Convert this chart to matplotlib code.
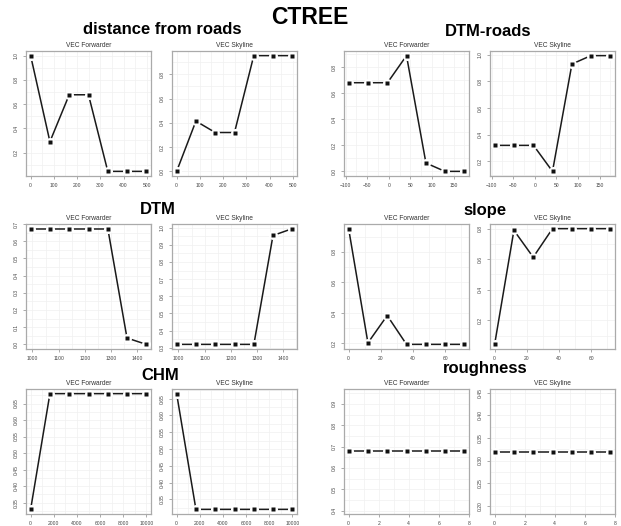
import matplotlib
matplotlib.use("Agg")
import matplotlib.pyplot as plt
from matplotlib.ticker import AutoMinorLocator

plt.rcParams["font.family"] = ["Liberation Sans", "DejaVu Sans"]

# x values of each variable
dist_x = [0, 83, 166, 249, 332, 415, 498]
dtmroads_x = [-93, -48, -3, 41, 86, 130, 175]
dtm_x = [993, 1067, 1140, 1214, 1288, 1361, 1435]
slope_x = [0, 12, 24, 36, 48, 60, 72]
chm_x = [0, 1667, 3333, 5000, 6667, 8333, 10000]
rough_x = [0, 1.29, 2.57, 3.86, 5.14, 6.43, 7.71]

# partial dependence values
dist_fwd = [1.0, 0.29, 0.677, 0.677, 0.045, 0.045, 0.045]
dist_sky = [0.0, 0.414, 0.32, 0.32, 0.953, 0.953, 0.953]
dtmroads_fwd = [0.681, 0.681, 0.681, 0.889, 0.064, 0.0, 0.0]
dtmroads_sky = [0.32, 0.32, 0.32, 0.125, 0.93, 0.993, 0.993]
dtm_fwd = [0.671, 0.671, 0.671, 0.671, 0.671, 0.037, 0.0]
dtm_sky = [0.32, 0.32, 0.32, 0.32, 0.32, 0.954, 0.994]
slope_fwd = [0.953, 0.204, 0.383, 0.194, 0.194, 0.194, 0.194]
slope_sky = [0.043, 0.789, 0.613, 0.8, 0.8, 0.8, 0.8]
chm_fwd = [0.33, 0.68, 0.68, 0.68, 0.68, 0.68, 0.68]
chm_sky = [0.665, 0.32, 0.32, 0.32, 0.32, 0.32, 0.32]
rough_fwd = [0.677, 0.677, 0.677, 0.677, 0.677, 0.677, 0.677]
rough_sky = [0.32, 0.32, 0.32, 0.32, 0.32, 0.32, 0.32]

# tick labels
dist_xt = [0, 100, 200, 300, 400, 500]
dtmroads_xt = [-100, -50, 0, 50, 100, 150]
dtm_xt = [1000, 1100, 1200, 1300, 1400]
slope_xt = [0, 20, 40, 60]
chm_xt = [0, 2000, 4000, 6000, 8000, 10000]
rough_xt = [0, 2, 4, 6, 8]

dist_fwd_yt = [0.2, 0.4, 0.6, 0.8, 1.0]
dist_sky_yt = [0.0, 0.2, 0.4, 0.6, 0.8]
dtmroads_fwd_yt = [0.0, 0.2, 0.4, 0.6, 0.8]
dtmroads_sky_yt = [0.2, 0.4, 0.6, 0.8, 1.0]
dtm_fwd_yt = [0.0, 0.1, 0.2, 0.3, 0.4, 0.5, 0.6, 0.7]
dtm_sky_yt = [0.3, 0.4, 0.5, 0.6, 0.7, 0.8, 0.9, 1.0]
slope_fwd_yt = [0.2, 0.4, 0.6, 0.8]
slope_sky_yt = [0.2, 0.4, 0.6, 0.8]
chm_yt = [0.35, 0.40, 0.45, 0.50, 0.55, 0.60, 0.65]
rough_fwd_yt = [0.4, 0.5, 0.6, 0.7, 0.8, 0.9]
rough_sky_yt = [0.20, 0.25, 0.30, 0.35, 0.40, 0.45]

panels = [
    (dist_x, dist_fwd, dist_xt, dist_fwd_yt, "VEC Forwarder", 0, 0),
    (dist_x, dist_sky, dist_xt, dist_sky_yt, "VEC Skyline", 0, 1),
    (dtmroads_x, dtmroads_fwd, dtmroads_xt, dtmroads_fwd_yt, "VEC Forwarder", 0, 2),
    (dtmroads_x, dtmroads_sky, dtmroads_xt, dtmroads_sky_yt, "VEC Skyline", 0, 3),
    (dtm_x, dtm_fwd, dtm_xt, dtm_fwd_yt, "VEC Forwarder", 1, 0),
    (dtm_x, dtm_sky, dtm_xt, dtm_sky_yt, "VEC Skyline", 1, 1),
    (slope_x, slope_fwd, slope_xt, slope_fwd_yt, "VEC Forwarder", 1, 2),
    (slope_x, slope_sky, slope_xt, slope_sky_yt, "VEC Skyline", 1, 3),
    (chm_x, chm_fwd, chm_xt, chm_yt, "VEC Forwarder", 2, 0),
    (chm_x, chm_sky, chm_xt, chm_yt, "VEC Skyline", 2, 1),
    (rough_x, rough_fwd, rough_xt, rough_fwd_yt, "VEC Forwarder", 2, 2),
    (rough_x, rough_sky, rough_xt, rough_sky_yt, "VEC Skyline", 2, 3),
]

W, H = 621, 526
col_left = [26, 172, 344, 490]
row_top = [51, 224, 389]
aw, ah = 125, 125

fig = plt.figure(figsize=(W / 100, H / 100), dpi=100)

for x, y, xt, yt, name, r, c in panels:
    ax = fig.add_axes([col_left[c] / W, 1 - (row_top[r] + ah) / H, aw / W, ah / H])
    lo, hi = min(y), max(y)
    if hi == lo:
        lo, hi = lo * 0.6, hi * 1.4
    pad = (hi - lo) * 0.04
    ax.set_ylim(lo - pad, hi + pad)
    xpad = (max(x) - min(x)) * 0.04
    ax.set_xlim(min(x) - xpad, max(x) + xpad)

    ax.plot(x, y, color="#1a1a1a", lw=1.1, zorder=3)
    # white halo so the line stops short of each point
    ax.plot(x, y, ls="none", marker="o", ms=6.5, mfc="white", mec="none", zorder=4)
    ax.plot(x, y, ls="none", marker="s", ms=2.6, mfc="#111111", mec="none", zorder=5)

    ax.set_xticks(xt)
    ax.set_yticks(yt)
    ax.xaxis.set_minor_locator(AutoMinorLocator(2))
    ax.yaxis.set_minor_locator(AutoMinorLocator(2))
    ax.grid(True, which="both", color="#f0f0f0", lw=0.5)
    ax.set_axisbelow(True)
    ax.tick_params(which="minor", length=0)
    ax.tick_params(which="major", length=2, width=0.5, color="#888888",
                   labelsize=3.6, labelcolor="#444444", pad=3)
    for lab in ax.get_yticklabels():
        lab.set_rotation(90)
        lab.set_va("center")
    for s in ax.spines.values():
        s.set_color("#aaaaaa")
        s.set_linewidth(0.9)
    ax.set_title(name, fontsize=4.8, color="#333333", pad=3)

titles = [
    ("distance from roads", 162, 30),
    ("DTM-roads", 488, 32),
    ("DTM", 158, 209),
    ("slope", 485, 211),
    ("CHM", 160, 375),
    ("roughness", 485, 369),
]
for txt, tx, ty in titles:
    fig.text(tx / W, 1 - ty / H, txt, fontsize=12, fontweight="bold",
             ha="center", va="center")

fig.text(310 / W, 1 - 17 / H, "CTREE", fontsize=16.5, fontweight="bold",
         ha="center", va="center")

fig.savefig("out.png", dpi=100)
